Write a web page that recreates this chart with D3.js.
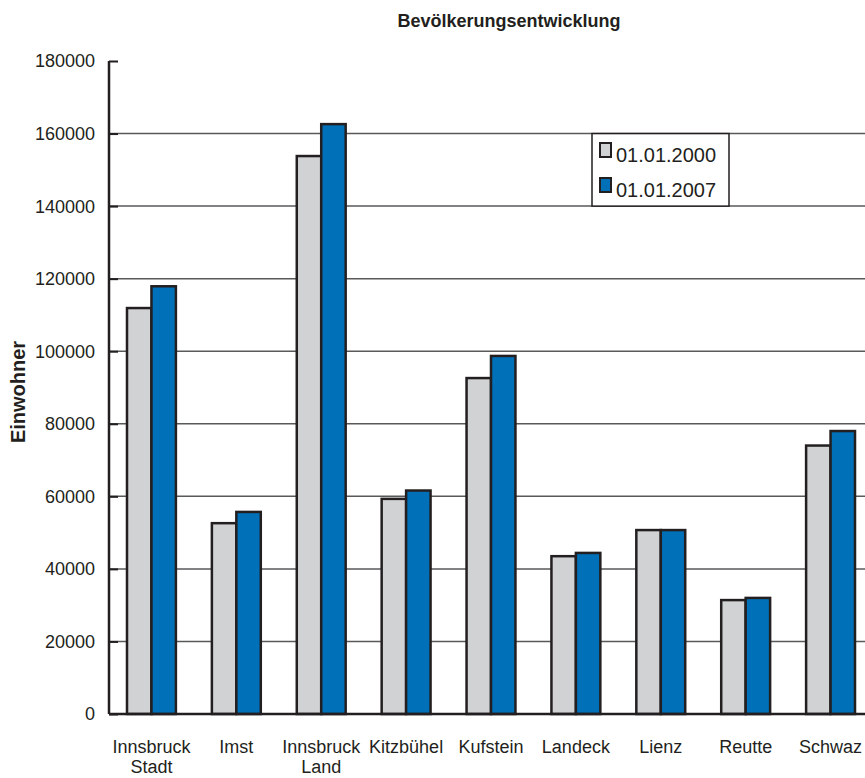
<!DOCTYPE html>
<html><head><meta charset="utf-8">
<script src="https://cdn.jsdelivr.net/npm/d3@7"></script>
<style>body{margin:0;background:#fff}svg{display:block}text{font-family:"Liberation Sans",Arial,sans-serif;fill:#231f20}</style>
</head><body><svg id="c" width="865" height="778"></svg>
<script>
const categories = [["Innsbruck","Stadt"],["Imst"],["Innsbruck","Land"],["Kitzbühel"],["Kufstein"],["Landeck"],["Lienz"],["Reutte"],["Schwaz"]];
const seriesNames = ["01.01.2000","01.01.2007"];
const values2000 = [111900, 52600, 153800, 59300, 92600, 43500, 50700, 31400, 74000];
const values2007 = [117900, 55700, 162600, 61600, 98700, 44400, 50700, 32000, 78000];
const yTicks = [0,20000,40000,60000,80000,100000,120000,140000,160000,180000];
const colors = ["#d1d2d4","#0070b8"];

(function(){
const svg = d3.select("#c");
const mL = 109, mR = 873, mT = 61, mB = 714;
const keys = categories.map((c,i)=>i);
const x = d3.scaleBand().domain(keys).range([mL,mR]).paddingInner(0.424).paddingOuter(0.212);
const x1 = d3.scaleBand().domain([0,1]).range([0,x.bandwidth()]);
const y = d3.scaleLinear().domain([0,180000]).range([mB,mT]);

// gridlines
svg.append("g").selectAll("line").data(yTicks.filter(t=>t>0 && t<180000)).join("line")
  .attr("x1",mL).attr("x2",865).attr("y1",d=>y(d)).attr("y2",d=>y(d))
  .attr("stroke","#58595b").attr("stroke-width",1.5);

// y axis ticks (inner)
const yAxis = svg.append("g").attr("transform",`translate(${mL},0)`)
  .call(d3.axisRight(y).tickValues(yTicks).tickSize(9).tickFormat(""));
yAxis.select(".domain").remove();
yAxis.selectAll("line").attr("stroke","#231f20").attr("stroke-width",2);
svg.append("g").selectAll("text").data(yTicks).join("text")
  .attr("x",95).attr("y",d=>y(d)).attr("dy","0.36em").attr("text-anchor","end")
  .attr("font-size",18).text(d=>d3.format("d")(d));

// legend
const lg = svg.append("g");
lg.append("rect").attr("x",592).attr("y",y(160000)).attr("width",137).attr("height",y(140000)-y(160000))
  .attr("fill","#fff").attr("stroke","#231f20").attr("stroke-width",1.5);
seriesNames.forEach((n,i)=>{
  const yy = [143,178][i];
  lg.append("rect").attr("x",600).attr("y",yy).attr("width",11).attr("height",14)
    .attr("fill",colors[i]).attr("stroke","#231f20").attr("stroke-width",2);
  lg.append("text").attr("x",616).attr("y",yy+19).attr("font-size",20).text(n);
});

// bars
const groups = svg.append("g").selectAll("g").data(keys).join("g")
  .attr("transform",d=>`translate(${x(d)},0)`);
groups.selectAll("rect").data(d=>[values2000[d],values2007[d]]).join("rect")
  .attr("x",(d,i)=>x1(i)).attr("width",x1.bandwidth())
  .attr("y",d=>y(d)).attr("height",d=>mB-y(d))
  .attr("fill",(d,i)=>colors[i]).attr("stroke","#231f20").attr("stroke-width",2.5);

// axis lines
svg.append("line").attr("x1",mL).attr("x2",mL).attr("y1",mT).attr("y2",mB)
  .attr("stroke","#231f20").attr("stroke-width",2.5);
svg.append("line").attr("x1",mL).attr("x2",865).attr("y1",mB).attr("y2",mB)
  .attr("stroke","#231f20").attr("stroke-width",2.5);

// category labels
svg.append("g").selectAll("text").data(keys).join("text")
  .attr("x",d=>x(d)+x.bandwidth()/2).attr("y",753).attr("text-anchor","middle").attr("font-size",18)
  .each(function(d){
    const t = d3.select(this);
    categories[d].forEach((s,j)=>t.append("tspan").attr("x",x(d)+x.bandwidth()/2).attr("dy",j?20:0).text(s));
  });

// title
svg.append("text").attr("x",509).attr("y",27).attr("text-anchor","middle")
  .attr("font-size",18).attr("font-weight","bold").text("Bevölkerungsentwicklung");
// y label
svg.append("text").attr("transform","translate(25,392) rotate(-90)").attr("text-anchor","middle")
  .attr("font-size",20).attr("font-weight","bold").text("Einwohner");
})();
</script></body></html>
